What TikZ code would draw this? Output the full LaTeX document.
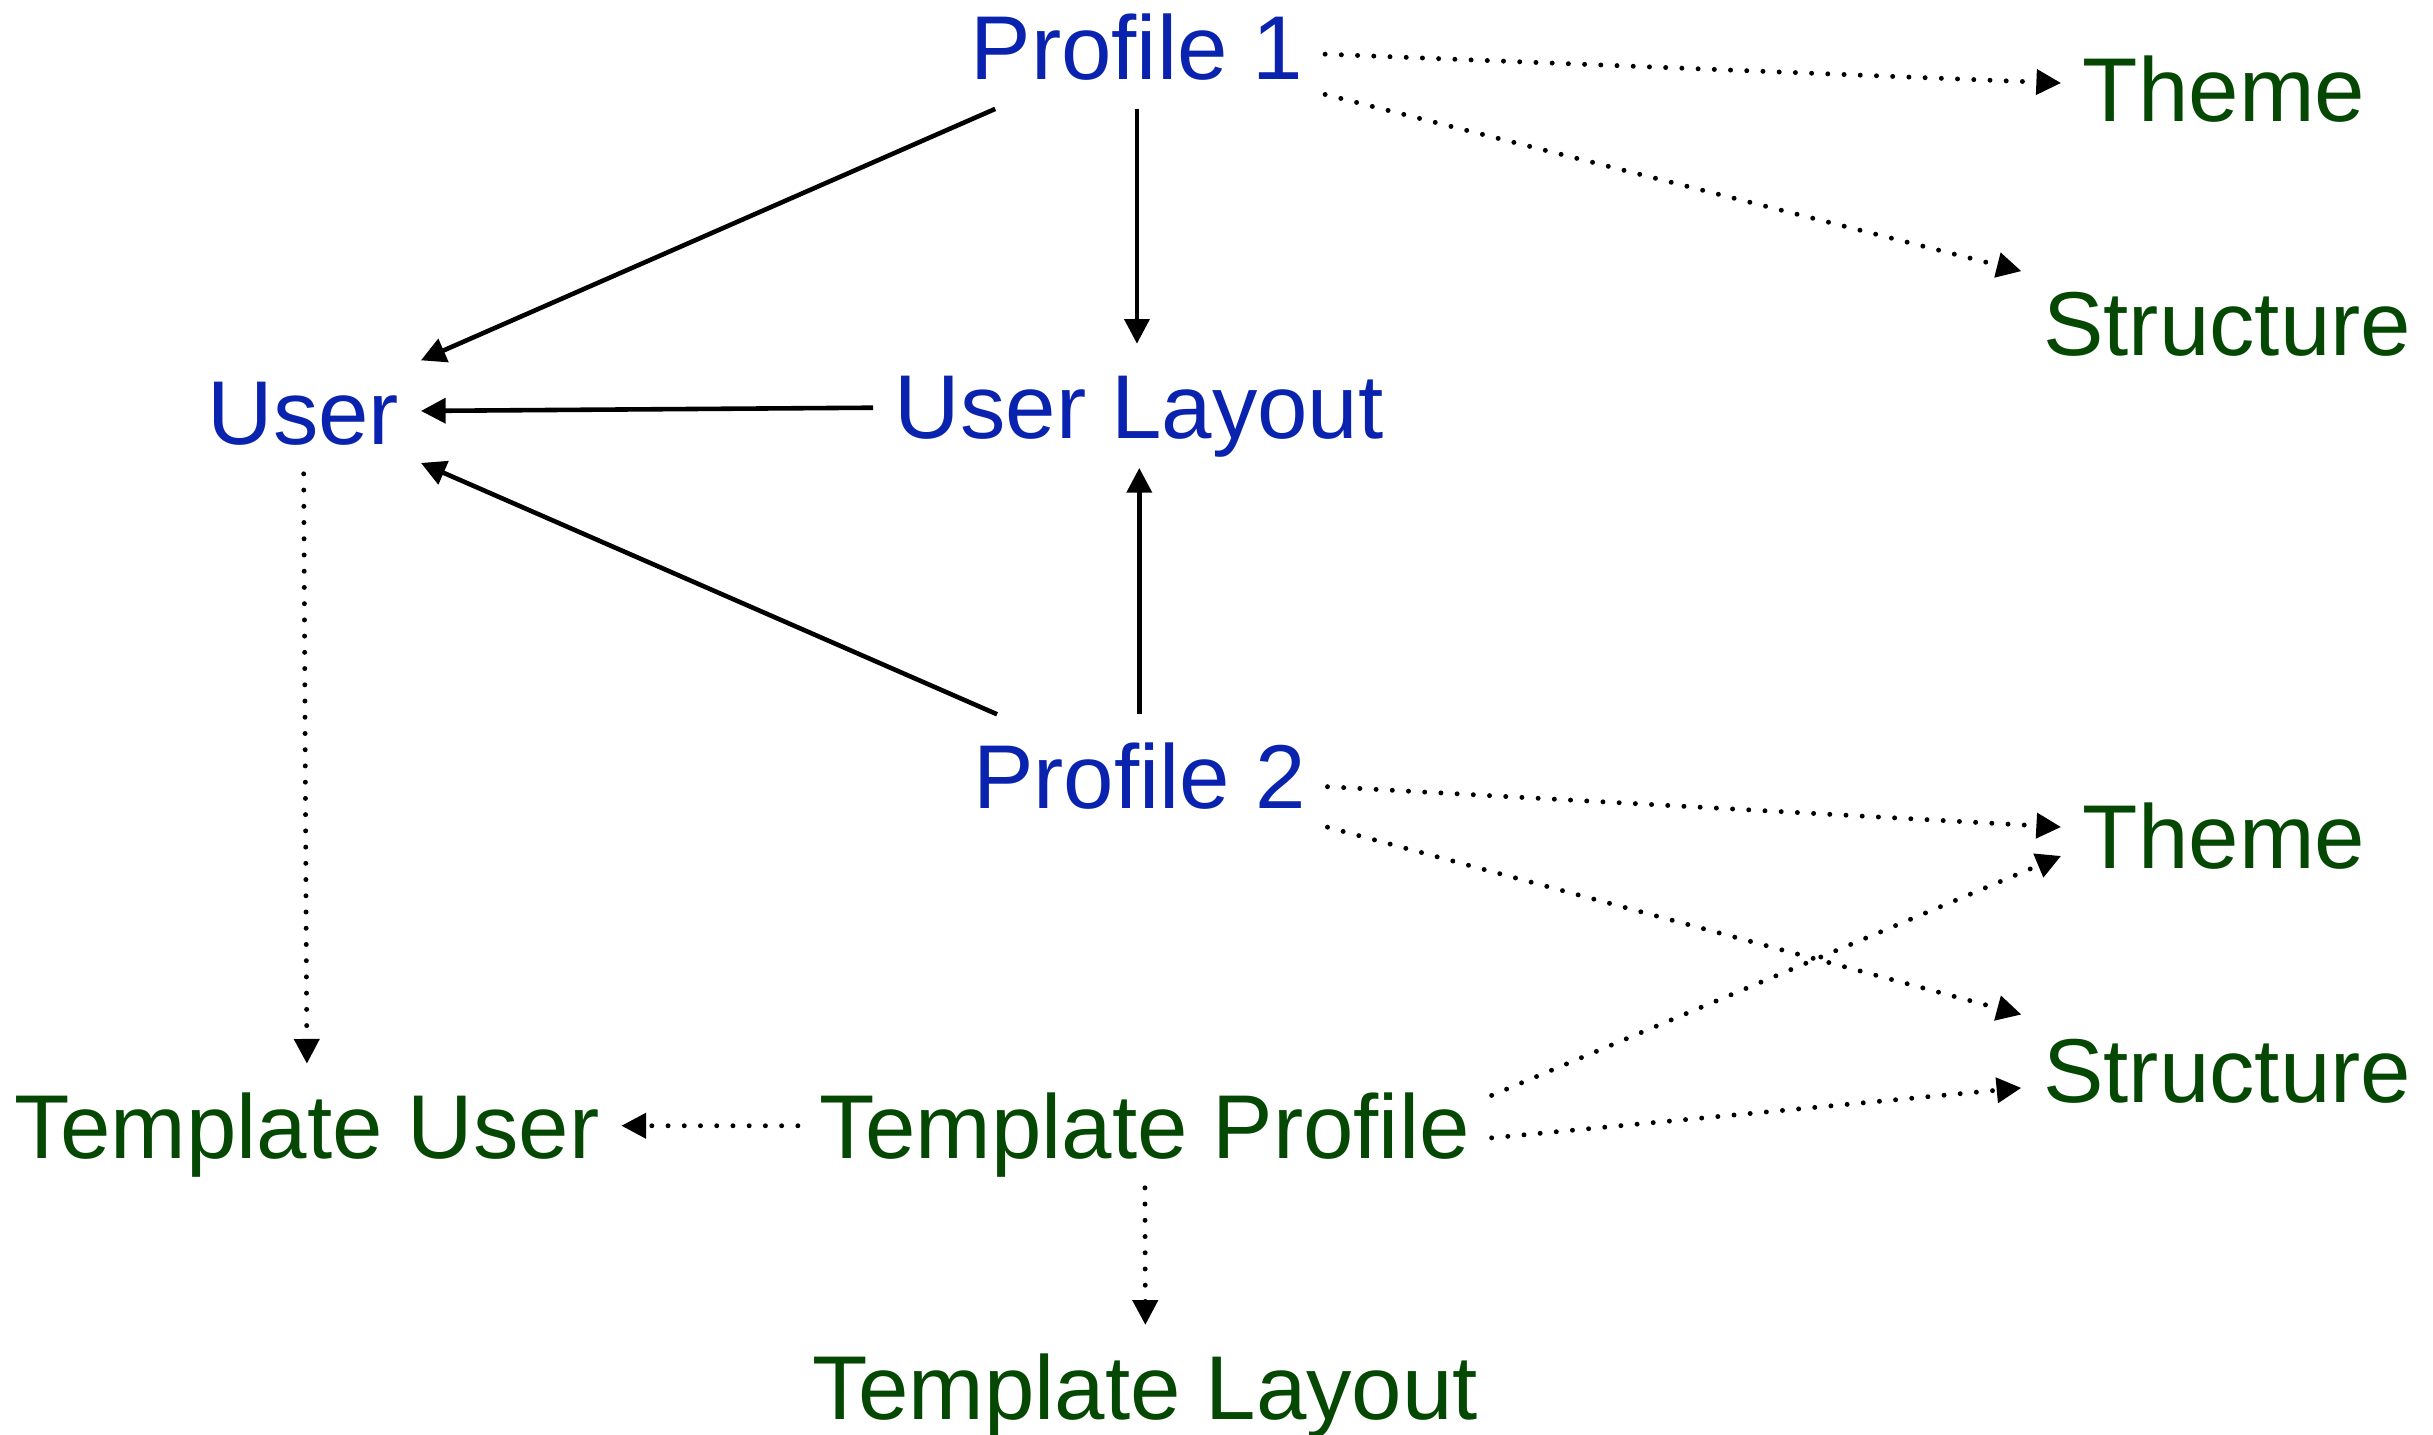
\documentclass[tikz,border=0pt]{standalone}
\usepackage{fontspec}
\setmainfont{Liberation Sans}
\usetikzlibrary{arrows.meta}
\definecolor{profblue}{RGB}{10,35,175}
\definecolor{tplgreen}{RGB}{4,72,4}

\begin{document}
\begin{tikzpicture}[x=0.4421pt,y=-0.4421pt,
   every node/.style={font=\fontsize{25.7}{30}\selectfont,text height=18.4pt,text depth=0pt,inner xsep=6pt,inner ysep=8.2pt},
   live/.style={text=profblue},
   tpl/.style={text=tplgreen},
   link/.style={line width=1.3pt,-{Triangle[width=7pt,length=7pt]}},
   ref/.style={line width=1.4pt,line cap=round,dash pattern=on 0pt off 4.6pt,-{Triangle[width=7pt,length=7pt]}}]
   \useasboundingbox (0,0) rectangle (1560,919.5);
   \node[live] (p1) at (729,30) {Profile 1};
   \node[live] (p2) at (730.5,497.8) {Profile 2};
   \node[live] (user) at (194.5,264) {User};
   \node[live] (ulayout) at (730.5,260.2) {User Layout};
   \node[tpl] (theme1) at (1426,57.3) {Theme};
   \node[tpl] (struct1) at (1428,207.3) {Structure};
   \node[tpl] (theme2) at (1426,536) {Theme};
   \node[tpl] (struct2) at (1428,686) {Structure};
   \node[tpl] (tuser) at (197,721.8) {Template User};
   \node[tpl] (tprofile) at (734,721.8) {Template Profile};
   \node[tpl] (tlayout) at (734.5,889.3) {Template Layout};
   \draw[link] (p1) -- (user);
   \draw[link] (p1.south) -- (p1.south |- ulayout.north);
   \draw[link] (ulayout) -- (user);
   \draw[link] (p2) -- (user);
   \draw[link] (p2.north) -- (p2.north |- ulayout.south);
   \draw[ref] (p1) -- (theme1);
   \draw[ref] (p1) -- (struct1);
   \draw[ref] (p2) -- (theme2);
   \draw[ref] (p2) -- (struct2);
   \draw[ref] (tprofile.5) -- (theme2.187);
   \draw[ref] (tprofile.-2.4) -- (struct2.185);
   \draw[ref] (tprofile) -- (tuser);
   \draw[ref] (tprofile) -- (tlayout);
   \draw[ref] (user) -- (tuser);
\end{tikzpicture}
\end{document}
